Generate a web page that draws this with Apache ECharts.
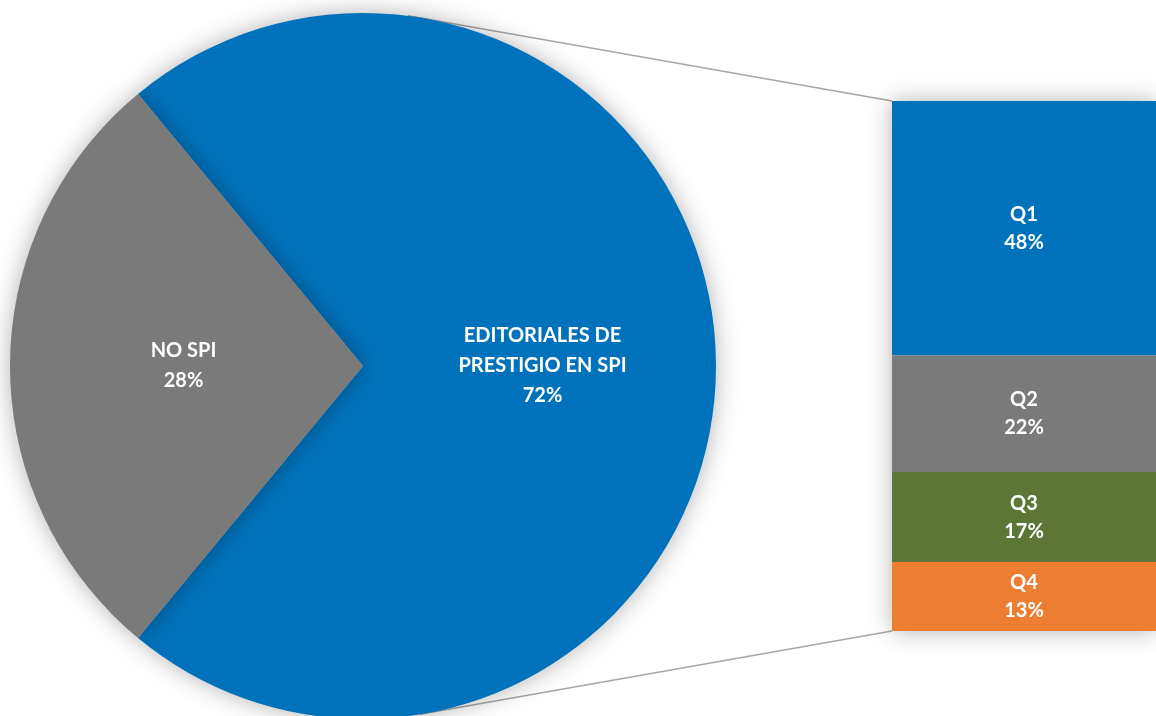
<!DOCTYPE html>
<html><head><meta charset="utf-8">
<script src="https://cdn.jsdelivr.net/npm/echarts@6/dist/echarts.min.js"></script>
<style>html,body{margin:0;padding:0;background:#fff}#c{width:1156px;height:716px}</style>
</head><body><div id="c"></div>
<script>
var pieNames = ['EDITORIALES DE\nPRESTIGIO EN SPI', 'NO SPI'];
var pieValues = [72, 28];
var pieColors = ['#0072BB', '#7A7A7A'];
var barNames = ['Q1', 'Q2', 'Q3', 'Q4'];
var barValues = [48, 22, 17, 13];
var barColors = ['#0072BB', '#7A7A7A', '#5B7635', '#ED7D31'];

var chart = echarts.init(document.getElementById('c'));
var font = 'Lato, "Open Sans", sans-serif';
var CX = 363, CY = 366, R = 353;
var startAngle = 180 - 360 * pieValues[1] / 100 / 2;
var barTotal = barValues.reduce(function (a, b) { return a + b; }, 0);

var barSeries = [{
  type: 'bar', name: 'shadow', barWidth: '100%', barGap: '-100%', z: 1, silent: true,
  data: [barTotal],
  itemStyle: { color: '#fff', shadowBlur: 22, shadowColor: 'rgba(0,0,0,0.3)' },
  label: { show: false }
}].concat(barNames.map(function (n, i) {
  return {
    type: 'bar', name: n, stack: 'q', barWidth: '100%', barGap: '-100%', z: 2,
    data: [barValues[i]],
    itemStyle: { color: barColors[i] },
    label: {
      show: true, position: 'inside', color: '#fff', fontFamily: font, fontWeight: 'bold',
      fontSize: 20, lineHeight: 28,
      formatter: function (p) { return p.seriesName + '\n' + p.value + '%'; }
    }
  };
}));

chart.setOption({
  animation: false,
  grid: { left: 892, right: 0, top: 101, bottom: 85, containLabel: false },
  xAxis: { type: 'category', data: [''], show: false },
  yAxis: { type: 'value', min: 0, max: 100, inverse: true, show: false },
  series: [{
    type: 'pie', center: [CX, CY], radius: R, startAngle: startAngle, clockwise: true,
    data: pieNames.map(function (n, i) { return { name: n, value: pieValues[i], itemStyle: { color: pieColors[i] } }; }),
    itemStyle: { shadowBlur: 25, shadowColor: 'rgba(0,0,0,0.3)' },
    label: {
      show: true, position: 'inside', color: '#fff', fontFamily: font, fontWeight: 'bold',
      fontSize: 20, lineHeight: 30,
      formatter: function (p) { return p.name + '\n' + p.value + '%'; }
    },
    labelLine: { show: false }
  }].concat(barSeries)
});

function drawConnectors() {
  var tl = chart.convertToPixel({ gridIndex: 0 }, [0, 0]);
  var bl = chart.convertToPixel({ gridIndex: 0 }, [0, 100]);
  var barLeft = 892;
  var aTop = 82.7 * Math.PI / 180, aBot = -80.7 * Math.PI / 180;
  var p1 = [CX + R * Math.cos(aTop), CY - R * Math.sin(aTop)];
  var p2 = [CX + R * Math.cos(aBot), CY - R * Math.sin(aBot)];
  chart.setOption({
    graphic: [
      { type: 'line', z: -1, shape: { x1: p1[0], y1: p1[1], x2: barLeft, y2: tl[1] }, style: { stroke: '#A6A6A6', lineWidth: 1.5 } },
      { type: 'line', z: -1, shape: { x1: p2[0], y1: p2[1], x2: barLeft, y2: bl[1] }, style: { stroke: '#A6A6A6', lineWidth: 1.5 } }
    ]
  });
}
drawConnectors();
</script></body></html>
